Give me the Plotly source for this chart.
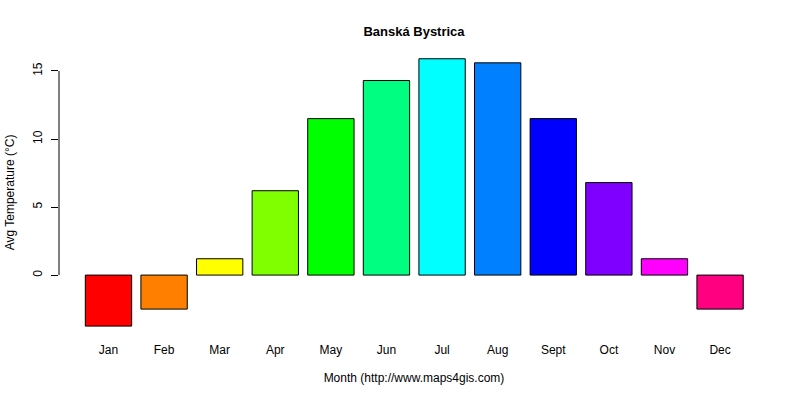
import plotly.graph_objects as go

months = ["Jan", "Feb", "Mar", "Apr", "May", "Jun", "Jul", "Aug", "Sept", "Oct", "Nov", "Dec"]
avg_temp = [-3.75, -2.5, 1.2, 6.2, 11.5, 14.3, 15.9, 15.6, 11.5, 6.8, 1.2, -2.5]
bar_colors = ["#FF0000", "#FF8000", "#FFFF00", "#80FF00", "#00FF00", "#00FF80",
              "#00FFFF", "#0080FF", "#0000FF", "#8000FF", "#FF00FF", "#FF0080"]
y_ticks = [0, 5, 10, 15]

font = "Liberation Sans, Arial, sans-serif"

fig = go.Figure(go.Bar(
    x=months,
    y=avg_temp,
    marker=dict(color=bar_colors, line=dict(color="black", width=1)),
))

fig.update_layout(
    width=800, height=400,
    margin=dict(l=59, r=31, t=48, b=63),
    paper_bgcolor="white", plot_bgcolor="white",
    bargap=0.2 / 1.2,
    showlegend=False,
    font=dict(family=font, size=12, color="black"),
    title=dict(text="<b>Banská Bystrica</b>", x=414 / 800, xanchor="center",
               y=1 - 31 / 400, yanchor="middle", font=dict(size=13)),
)

fig.update_xaxes(
    range=[-0.89, 11.88], showgrid=False, zeroline=False, showline=False,
    ticks="", ticklabelstandoff=4, automargin=False,
    title=dict(text="Month (http://www.maps4gis.com)", standoff=17, font=dict(size=12)),
)
fig.update_yaxes(
    range=[-4.55, 16.69], showgrid=False, zeroline=False, showline=False,
    tickvals=y_ticks, ticks="outside", ticklen=7, tickcolor="black",
    tickangle=-90, ticklabelstandoff=4, automargin=False,
    title=dict(text="Avg Temperature (°C)", standoff=14, font=dict(size=12)),
)

# R-style axis line spanning only the tick range
fig.add_shape(type="line", xref="paper", yref="y", x0=0, x1=0,
              y0=min(y_ticks), y1=max(y_ticks), line=dict(color="black", width=1))

fig.write_html("out.html", config={"displayModeBar": False},
               post_script="document.body.style.margin='0px';")
